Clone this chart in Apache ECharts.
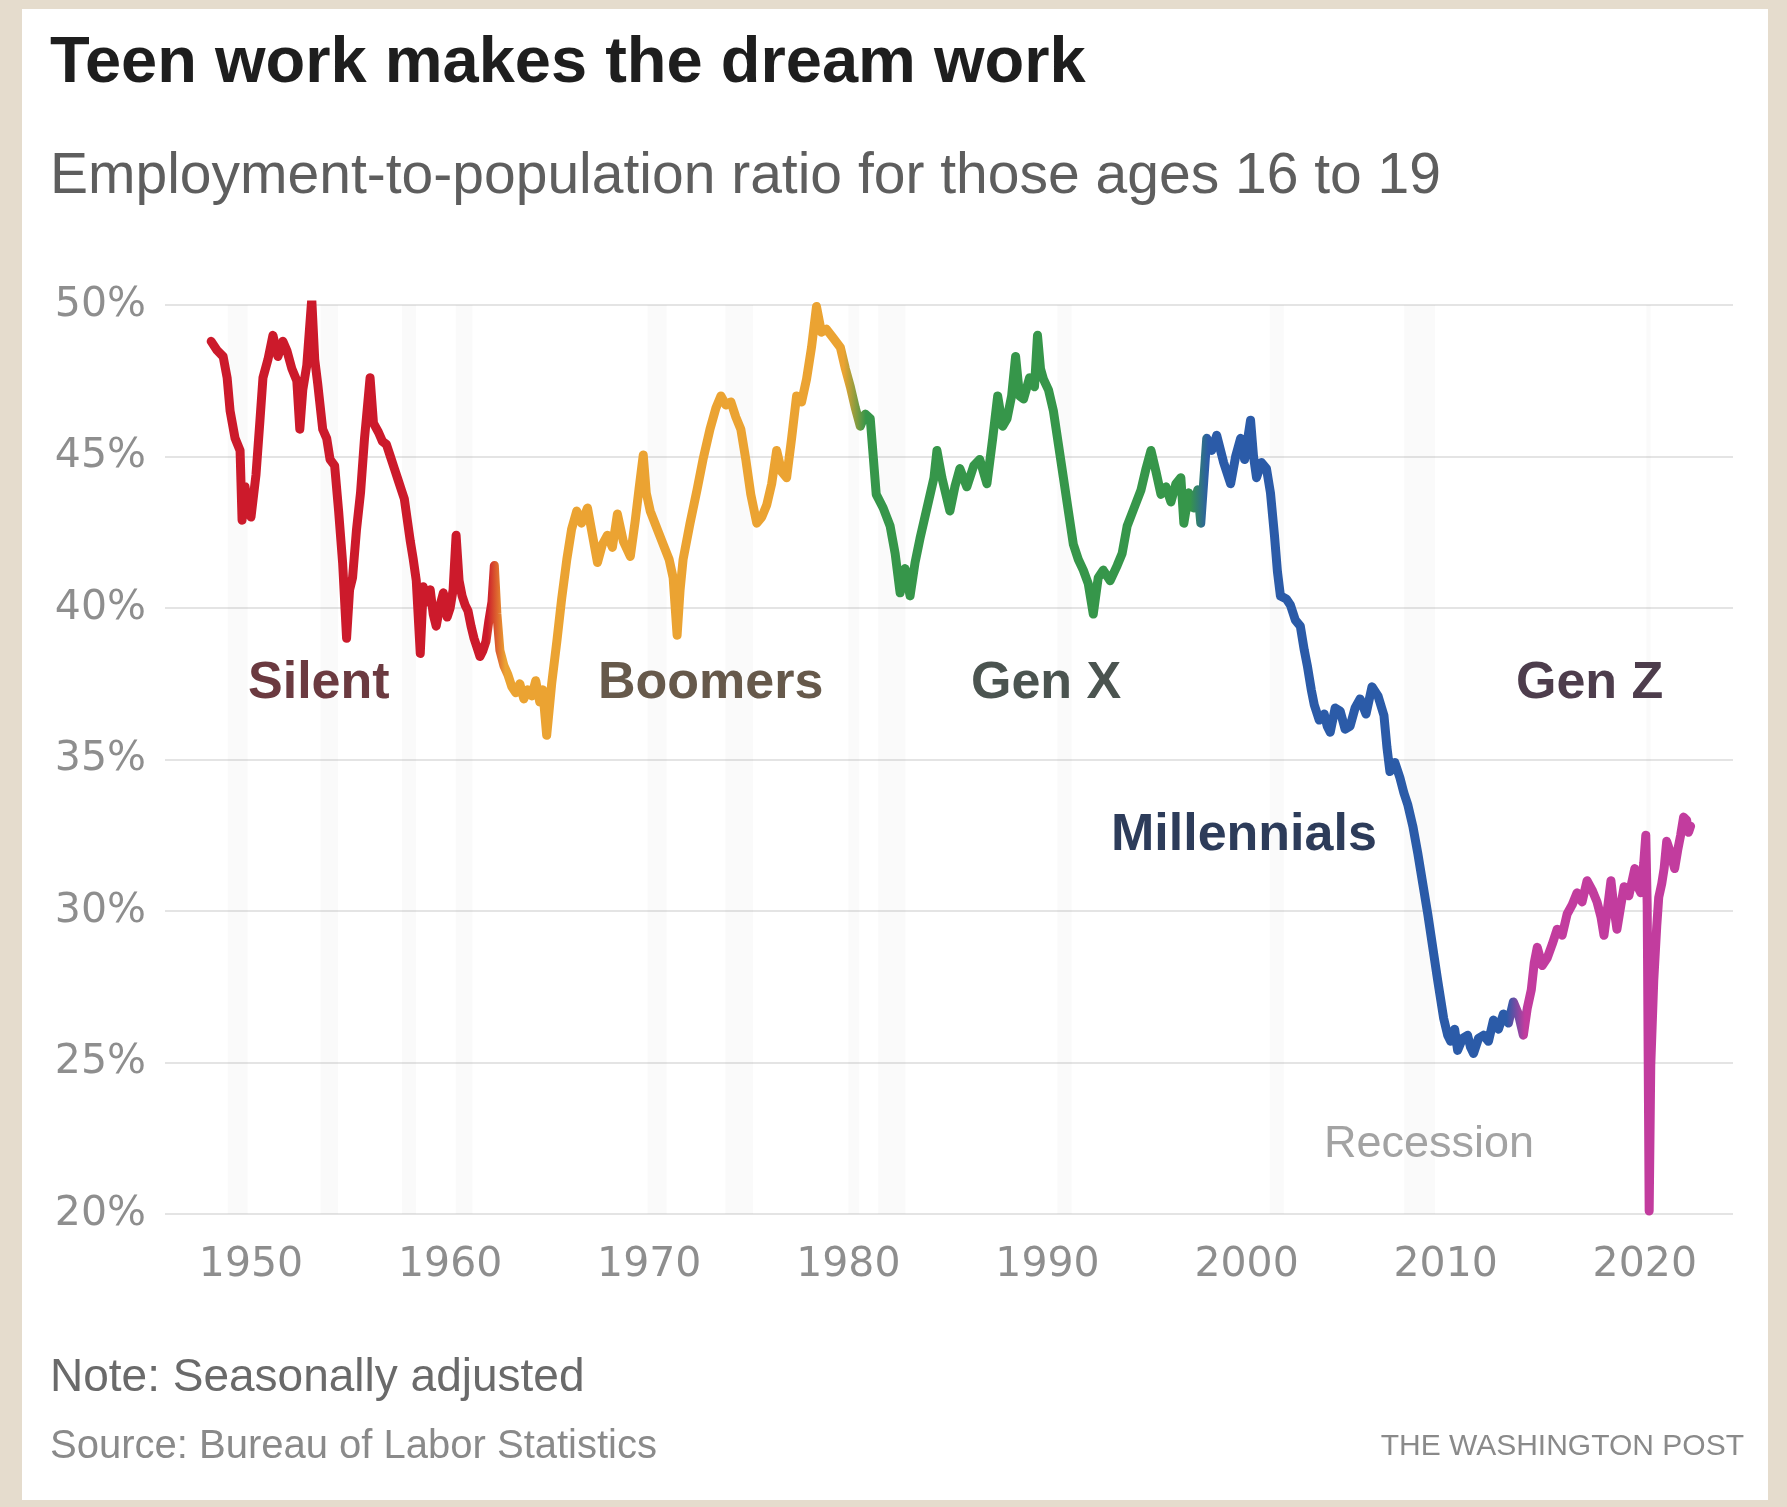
<!DOCTYPE html>
<html><head><meta charset="utf-8">
<script src="https://cdn.jsdelivr.net/npm/echarts@6/dist/echarts.min.js"></script>
<style>
html,body{margin:0;padding:0;background:#e5dccd;}
#wrap{position:relative;width:1787px;height:1507px;background:#e5dccd;overflow:hidden;}
#card{position:absolute;left:22px;top:9px;width:1746px;height:1491px;background:#fff;}
#chart{position:absolute;left:0;top:0;width:1787px;height:1507px;}
</style></head><body>
<div id="wrap"><div id="card"></div><div id="chart"></div></div>
<script>
// ---- data: [year, employment-to-population ratio %] ----
const silent = [
[1948.0,48.8],[1948.3,48.5],[1948.6,48.3],[1948.8,47.6],[1948.95,46.5],[1949.2,45.6],[1949.45,45.2],[1949.55,42.9],
[1949.7,44.0],[1949.85,43.2],[1950.0,43.0],[1950.25,44.4],[1950.45,46.2],[1950.6,47.6],[1950.85,48.2],[1951.1,49.0],
[1951.35,48.3],[1951.6,48.8],[1951.8,48.5],[1952.05,47.9],[1952.3,47.5],[1952.45,45.9],[1952.6,47.2],[1952.8,48.0],
[1953.05,50.2],[1953.2,48.2],[1953.35,47.4],[1953.6,45.9],[1953.8,45.6],[1953.97,44.9],[1954.2,44.7],[1954.4,43.2],
[1954.6,41.5],[1954.8,39.0],[1954.95,40.6],[1955.1,41.0],[1955.3,42.6],[1955.5,43.8],[1955.7,45.6],[1955.8,46.3],
[1955.98,47.6],[1956.15,46.1],[1956.4,45.8],[1956.6,45.5],[1956.8,45.4],[1957.0,45.0],[1957.2,44.6],[1957.4,44.2],
[1957.55,43.9],[1957.7,43.6],[1957.85,42.9],[1958.0,42.2],[1958.15,41.6],[1958.3,40.9],[1958.5,38.5],[1958.65,40.7],
[1958.85,40.2],[1959.0,40.6],[1959.15,39.8],[1959.3,39.4],[1959.5,40.1],[1959.66,40.5],[1959.85,39.7],[1960.0,40.0],
[1960.15,40.6],[1960.3,42.4],[1960.45,40.9],[1960.6,40.4],[1960.75,40.1],[1960.9,39.9],[1961.05,39.4],[1961.2,39.0],
[1961.35,38.7],[1961.5,38.4],[1961.65,38.6],[1961.8,38.9],[1961.95,39.6],[1962.1,40.2],[1962.22,41.4],[1962.35,39.8]
];
const boomers = [
[1962.5,38.6],[1962.7,38.1],[1962.9,37.8],[1963.1,37.4],[1963.3,37.2],[1963.5,37.5],[1963.7,37.0],[1963.9,37.3],
[1964.1,37.1],[1964.3,37.6],[1964.5,36.9],[1964.65,37.3],[1964.85,35.8],[1965.1,37.5],[1965.36,38.9],[1965.6,40.3],
[1965.86,41.6],[1966.1,42.6],[1966.36,43.2],[1966.6,42.8],[1966.9,43.3],[1967.15,42.4],[1967.4,41.5],[1967.65,42.1],
[1967.9,42.4],[1968.15,42.0],[1968.4,43.1],[1968.7,42.2],[1969.05,41.7],[1969.3,42.9],[1969.5,44.0],[1969.7,45.05],
[1969.85,43.8],[1970.05,43.2],[1970.4,42.6],[1970.7,42.1],[1971.0,41.6],[1971.2,41.0],[1971.4,39.1],[1971.55,40.6],
[1971.7,41.6],[1972.05,42.8],[1972.4,43.9],[1972.7,44.9],[1973.05,45.9],[1973.35,46.6],[1973.6,47.0],[1973.85,46.7],
[1974.1,46.8],[1974.35,46.3],[1974.6,45.9],[1974.85,44.9],[1975.1,43.75],[1975.4,42.8],[1975.65,43.0],[1975.9,43.4],
[1976.15,44.1],[1976.4,45.2],[1976.65,44.5],[1976.9,44.3],[1977.15,45.6],[1977.4,47.0],[1977.65,46.8],[1977.9,47.55],
[1978.15,48.6],[1978.4,49.95],[1978.65,49.1],[1978.9,49.2],[1979.25,48.9],[1979.6,48.6],[1979.85,47.9],[1980.1,47.3]
];
const genX = [
[1980.35,46.6],[1980.6,46.0],[1980.85,46.4],[1981.1,46.25],[1981.25,45.0],[1981.4,43.75],[1981.75,43.3],[1982.1,42.7],
[1982.35,41.8],[1982.6,40.5],[1982.85,41.3],[1983.1,40.4],[1983.35,41.5],[1983.6,42.3],[1983.95,43.3],[1984.3,44.3],
[1984.45,45.2],[1984.7,44.3],[1985.1,43.2],[1985.35,44.0],[1985.6,44.6],[1985.95,44.0],[1986.3,44.7],[1986.6,44.9],
[1986.96,44.1],[1987.25,45.6],[1987.5,47.0],[1987.75,46.0],[1987.97,46.25],[1988.2,47.0],[1988.4,48.3],[1988.6,47.0],
[1988.8,46.9],[1989.1,47.6],[1989.35,47.3],[1989.5,49.0],[1989.65,47.9],[1989.8,47.55],[1990.05,47.2],[1990.3,46.5],
[1990.55,45.4],[1990.8,44.3],[1991.05,43.2],[1991.3,42.1],[1991.55,41.6],[1991.8,41.25],[1992.05,40.8],[1992.3,39.8],
[1992.55,41.0],[1992.8,41.25],[1993.15,40.9],[1993.5,41.4],[1993.75,41.8],[1994.0,42.7],[1994.35,43.3],[1994.7,43.9],
[1994.95,44.6],[1995.2,45.2],[1995.45,44.5],[1995.7,43.75],[1995.95,44.0],[1996.2,43.5],[1996.45,44.1],[1996.7,44.3],
[1996.85,42.8],[1997.1,43.8],[1997.35,43.3],[1997.55,43.9],[1997.7,42.8]
];
const millennials = [
[1997.85,44.2],[1998.0,45.6],[1998.25,45.2],[1998.5,45.7],[1998.85,44.8],[1999.2,44.1],[1999.45,45.0],[1999.7,45.6],
[1999.9,44.9],[2000.2,46.2],[2000.35,45.0],[2000.5,44.3],[2000.75,44.8],[2001.0,44.6],[2001.2,43.8],[2001.4,42.4],
[2001.55,41.2],[2001.7,40.4],[2002.0,40.3],[2002.2,40.1],[2002.45,39.6],[2002.7,39.4],[2002.9,38.6],[2003.05,38.1],
[2003.25,37.3],[2003.4,36.8],[2003.65,36.3],[2003.9,36.5],[2004.05,36.1],[2004.2,35.9],[2004.45,36.7],[2004.7,36.6],
[2004.95,36.0],[2005.2,36.1],[2005.45,36.7],[2005.7,37.0],[2006.0,36.5],[2006.3,37.4],[2006.6,37.1],[2006.9,36.45],
[2007.05,35.4],[2007.2,34.6],[2007.45,34.9],[2007.7,34.4],[2007.9,33.9],[2008.1,33.5],[2008.35,32.8],[2008.6,31.9],
[2008.85,30.9],[2009.1,29.9],[2009.35,28.8],[2009.6,27.7],[2009.9,26.45],[2010.1,25.9],[2010.25,25.7],[2010.45,26.1],
[2010.6,25.4],[2010.85,25.8],[2011.1,25.9],[2011.25,25.5],[2011.4,25.3],[2011.65,25.8],[2011.9,25.9],[2012.15,25.7],
[2012.4,26.4],[2012.65,26.1],[2012.9,26.6],[2013.15,26.3]
];
const genZ = [
[2013.4,27.0],[2013.65,26.6],[2013.9,25.9],[2014.1,26.8],[2014.3,27.4],[2014.45,28.3],[2014.6,28.8],[2014.85,28.2],
[2015.1,28.45],[2015.35,28.9],[2015.6,29.4],[2015.85,29.2],[2016.1,29.9],[2016.35,30.2],[2016.6,30.6],[2016.85,30.3],
[2017.1,31.0],[2017.35,30.7],[2017.6,30.3],[2017.8,29.8],[2017.95,29.2],[2018.15,30.2],[2018.3,31.0],[2018.45,30.1],
[2018.6,29.4],[2018.8,30.2],[2018.96,30.8],[2019.2,30.5],[2019.5,31.4],[2019.65,30.8],[2019.8,30.6],[2019.95,31.6],
[2020.05,32.5],[2020.12,30.2],[2020.22,20.1],[2020.3,24.9],[2020.45,27.7],[2020.6,29.5],[2020.7,30.45],[2020.85,30.9],
[2020.97,31.4],[2021.1,32.3],[2021.3,31.9],[2021.5,31.4],[2021.65,32.0],[2021.8,32.5],[2021.95,33.1],[2022.1,33.0],
[2022.2,32.6],[2022.3,32.8]
];
// NBER recessions [start, end] in decimal years
const recessions = [
[1948.83,1949.83],[1953.5,1954.37],[1957.58,1958.29],[1960.29,1961.12],[1969.92,1970.87],[1973.83,1975.21],
[1980.0,1980.54],[1981.5,1982.87],[1990.5,1991.21],[2001.17,2001.87],[2007.92,2009.46],[2020.08,2020.29]
];
const xTicks = [1950,1960,1970,1980,1990,2000,2010,2020];
const yTicks = [20,25,30,35,40,45,50];
const generations = ['Silent','Boomers','Gen X','Millennials','Gen Z'];

// ---- styles ----
const colorStops = [
  [1948.0,'#cc1a2b'],[1962.0,'#cc1a2b'],[1962.9,'#eba332'],[1979.8,'#eba332'],[1980.9,'#36964a'],
  [1997.1,'#36964a'],[1998.0,'#2b5ba8'],[2012.9,'#2b5ba8'],[2013.8,'#c23c9e'],[2022.3,'#c23c9e']
];
const allData = [].concat(silent, boomers, genX, millennials, genZ);
const x0 = allData[0][0], x1 = allData[allData.length-1][0];
const gradient = {
  type:'linear', x:0, y:0, x2:1, y2:0,
  colorStops: colorStops.map(s => ({offset: Math.min(1, Math.max(0,(s[0]-x0)/(x1-x0))), color: s[1]}))
};

const chart = echarts.init(document.getElementById('chart'), null, {renderer:'canvas'});
const labelFont = '"DejaVu Sans", sans-serif';
const genLabelStyle = [
  {x:248, y:684, fill:'#6b3a40'},
  {x:598, y:684, fill:'#66594b'},
  {x:971, y:684, fill:'#4b5450'},
  {x:1111, y:836, fill:'#2d3c5a'},
  {x:1516, y:684, fill:'#4d3d4c'}
];
const genText = generations.map((g,i) => ({
  type:'text', x:genLabelStyle[i].x, y:genLabelStyle[i].y, z:10,
  style:{text:g, fill:genLabelStyle[i].fill, font:'bold 52px "Liberation Sans", Arial, sans-serif', verticalAlign:'middle', align:'left'}
}));

chart.setOption({
  animation:false,
  grid:{left:165, right:54, top:305, bottom:293, containLabel:false},
  xAxis:{
    type:'value', min:1945.68, max:2024.43,
    axisLine:{show:false}, axisTick:{show:false}, splitLine:{show:false},
    axisLabel:{customValues:xTicks, margin:31, color:'#8e8e8e', fontSize:41, fontFamily:labelFont,
      formatter: v => String(Math.round(v))}
  },
  yAxis:{
    type:'value', min:yTicks[0], max:yTicks[yTicks.length-1], interval:5,
    axisLine:{show:false}, axisTick:{show:false},
    splitLine:{lineStyle:{color:'#e4e4e4', width:2}},
    axisLabel:{formatter:'{value}%', margin:19, color:'#8e8e8e', fontSize:41, fontFamily:labelFont}
  },
  series:[
    {
      type:'line', data:[], z:1, silent:true,
      markArea:{silent:true, itemStyle:{color:'rgba(120,130,140,0.04)'},
        data: recessions.map(r => [{xAxis:r[0]},{xAxis:r[1]}])}
    },
    {
      type:'line', data: allData, z:5, showSymbol:false, symbol:'none', silent:true,
      lineStyle:{width:9, color:gradient, join:'round', cap:'round'}
    }
  ],
  graphic:[
    {type:'text', x:50, y:64, style:{text:'Teen work makes the dream work', fill:'#1e1e1e', font:'bold 65px "Liberation Sans", Arial, sans-serif', verticalAlign:'middle'}},
    {type:'text', x:50, y:177, style:{text:'Employment-to-population ratio for those ages 16 to 19', fill:'#5e5e5e', font:'57px "Liberation Sans", Arial, sans-serif', verticalAlign:'middle'}},
    ...genText,
    {type:'text', x:1324, y:1145, z:10, style:{text:'Recession', fill:'#a3a3a3', font:'45px "Liberation Sans", Arial, sans-serif', verticalAlign:'middle'}},
    {type:'text', x:50, y:1378, style:{text:'Note: Seasonally adjusted', fill:'#6a6a6a', font:'46px "Liberation Sans", Arial, sans-serif', verticalAlign:'middle'}},
    {type:'text', x:50, y:1447, style:{text:'Source: Bureau of Labor Statistics', fill:'#8a8a8a', font:'40px "Liberation Sans", Arial, sans-serif', verticalAlign:'middle'}},
    {type:'text', x:1744, y:1447, style:{text:'THE WASHINGTON POST', fill:'#8a8a8a', font:'30px "Liberation Sans", Arial, sans-serif', verticalAlign:'middle', align:'right'}}
  ]
});
</script>
</body></html>
